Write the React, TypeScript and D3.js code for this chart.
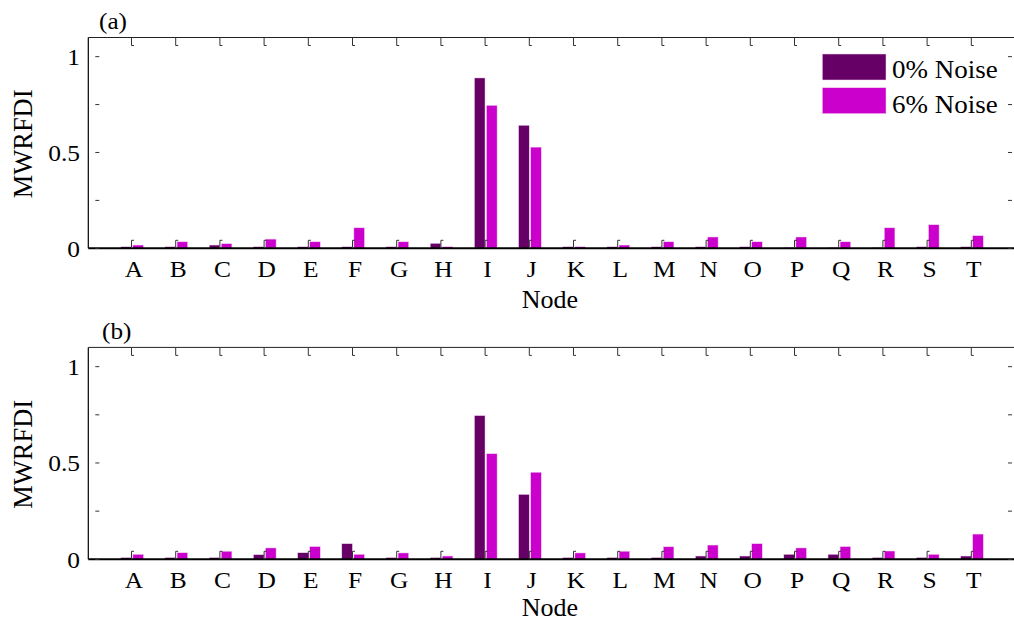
import React from "react";
import * as d3 from "d3";

const nodes = ["A","B","C","D","E","F","G","H","I","J","K","L","M","N","O","P","Q","R","S","T"];
const seriesNames = ["0% Noise", "6% Noise"];
const seriesColors = ["#660066", "#CC00CC"];

// Panel (a)
const a0 = [0.008,0.008,0.017,0.008,0.008,0.008,0.008,0.026,0.889,0.642,0.008,0.008,0.008,0.008,0.008,0.004,0.004,0.004,0.008,0.008];
const a6 = [0.017,0.034,0.024,0.048,0.034,0.107,0.034,0.008,0.746,0.528,0.008,0.017,0.034,0.059,0.034,0.059,0.034,0.107,0.123,0.066];
// Panel (b)
const b0 = [0.009,0.009,0.009,0.024,0.034,0.081,0.009,0.009,0.746,0.337,0.009,0.009,0.009,0.017,0.017,0.026,0.026,0.009,0.009,0.017];
const b6 = [0.026,0.034,0.042,0.059,0.066,0.026,0.033,0.017,0.548,0.452,0.033,0.042,0.065,0.074,0.081,0.059,0.066,0.043,0.026,0.131];

const yTicks = [0, 0.5, 1];
const yMinor = [0, 0.25, 0.5, 0.75, 1];
const yTickLabels = ["0", "0.5", "1"];

const FONT = "'Liberation Serif', 'Times New Roman', serif";

function Panel({ top, bottom, label, labelY, nodeDy, v0, v6, showLegend }: any) {
  const x = d3.scaleLinear().domain([0, nodes.length + 1]).range([88.3, 1016.5]);
  const y = d3.scaleLinear().domain([0, 1.1]).range([bottom, top]);
  const inner = d3.scaleBand().domain(seriesNames).range([-11.7, 11]).paddingInner(0.12);
  const data = [v0, v6];
  const xl = x(0);
  const xr = x(nodes.length + 1);
  return (
    <g>
      {data.map((vals: number[], s: number) =>
        vals.map((v, i) => (
          <rect
            key={`${s}-${i}`}
            x={x(i + 1) + (inner(seriesNames[s]) as number)}
            y={y(v)}
            width={inner.bandwidth()}
            height={y(0) - y(v)}
            fill={seriesColors[s]}
            stroke="#f0d8f0"
            strokeWidth={0.5}
          />
        ))
      )}
      <line x1={xl} x2={1014} y1={y(1.1)} y2={y(1.1)} stroke="#222" strokeWidth={1} />
      <line x1={xl} x2={xl} y1={y(1.1)} y2={y(0)} stroke="#000" strokeWidth={1.2} />
      <line x1={xl} x2={1014} y1={y(0)} y2={y(0)} stroke="#000" strokeWidth={2} />
      {nodes.map((n, i) => (
        <g key={n}>
          <path d={`M${x(i + 1) - 1},${y(0)} V${y(0) - 8} H${x(i + 1) + 1.5}`} fill="none" stroke="#333" strokeWidth={1} />
          <path d={`M${x(i + 1) - 1},${y(1.1)} V${y(1.1) + 8} H${x(i + 1) + 1.5}`} fill="none" stroke="#333" strokeWidth={1} />
          <text transform={`translate(${x(i + 1) + 1.5},${y(0) + 29}) scale(1.06,1)`} textAnchor="middle" fontFamily={FONT} fontSize={24} fill="#000">{n}</text>
        </g>
      ))}
      {yMinor.map((t) => (
        <g key={t}>
          <line x1={xl + 7} x2={xl + 11} y1={y(t)} y2={y(t)} stroke="#333" strokeWidth={1} />
          <line x1={xr - 8.5} x2={xr - 4.5} y1={y(t)} y2={y(t)} stroke="#333" strokeWidth={1} />
        </g>
      ))}
      {yTicks.map((t, i) => (
        <text key={t} transform={`translate(80,${y(t) + 8.5}) scale(1.06,1)`} textAnchor="end" fontFamily={FONT} fontSize={24} fill="#000">{yTickLabels[i]}</text>
      ))}
      <text x={550} y={y(0) + nodeDy} textAnchor="middle" fontFamily={FONT} fontSize={26} fill="#000">Node</text>
      <text transform={`translate(31.5,${(y(0) + y(1.1)) / 2 + 1}) rotate(-90)`} textAnchor="middle" fontFamily={FONT} fontSize={26.5} fill="#000">MWRFDI</text>
      <text transform={`translate(${label === "(a)" ? 99 : 102},${labelY}) scale(1.05,1)`} fontFamily={FONT} fontSize={24} fill="#000">{label}</text>
      {showLegend && (
        <g>
          {seriesNames.map((s, i) => (
            <g key={s}>
              <rect x={822.3} y={54 + i * 33.7} width={63.7} height={26} fill={seriesColors[i]} stroke="#f0d8f0" strokeWidth={0.5} />
              <text transform={`translate(892,${77.5 + i * 35}) scale(1.08,1)`} fontFamily={FONT} fontSize={25} fill="#000">{s}</text>
            </g>
          ))}
        </g>
      )}
    </g>
  );
}

export default function App() {
  return (
    <svg width={1014} height={622} style={{ position: "absolute", left: 0, top: 0, background: "#fff" }}>
      <rect width={1014} height={622} fill="#fff" />
      <Panel top={37.5} bottom={248.3} label="(a)" labelY={29} nodeDy={60} v0={a0} v6={a6} showLegend={true} />
      <Panel top={347.4} bottom={559.3} label="(b)" labelY={339} nodeDy={57} v0={b0} v6={b6} showLegend={false} />
    </svg>
  );
}
